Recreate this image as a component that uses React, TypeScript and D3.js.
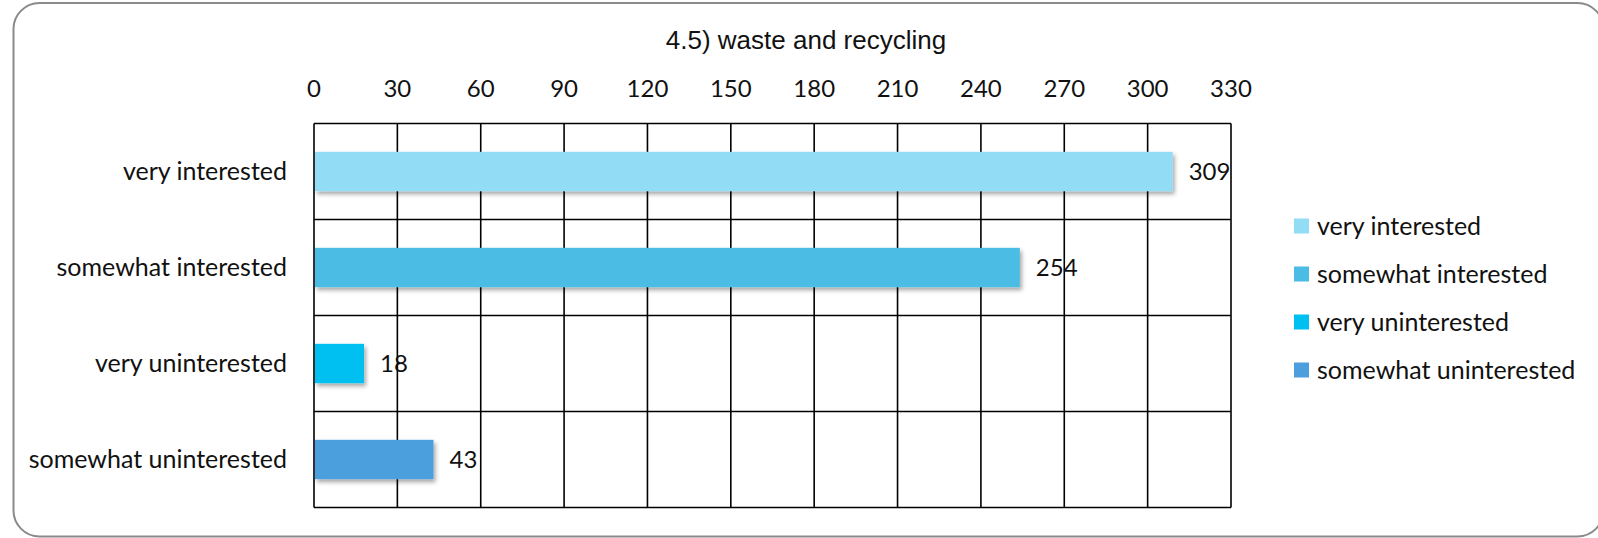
import React from 'react';
import * as d3 from 'd3';

// Chart data
const categories = ['very interested', 'somewhat interested', 'very uninterested', 'somewhat uninterested'];
const values = [309, 254, 18, 43];
const colors = ['#92dcf6', '#4bbce4', '#00c0f2', '#4c9fdc'];
const xTicks = [0, 30, 60, 90, 120, 150, 180, 210, 240, 270, 300, 330];
const title = '4.5) waste and recycling';

const W = 1598;
const H = 538;
const margin = { left: 314, right: 1231, top: 123.5, bottom: 507.5 };
const labelFont = 'Lato, "Open Sans", sans-serif';

const App = () => {
  const x = d3.scaleLinear().domain([0, 330]).range([margin.left, margin.right]);
  const y = d3.scaleBand<string>()
    .domain(categories)
    .range([margin.top, margin.bottom])
    .paddingInner(0.59)
    .paddingOuter(0.295);
  const step = y.step();
  const rowLines = d3.range(categories.length + 1).map(i => margin.top + i * step);

  return (
    <div style={{ position: 'absolute', left: 0, top: 0 }}>
      <svg width={W} height={H} style={{ display: 'block', background: '#fff' }}>
        <defs>
          <filter id="shadow" x="-5%" y="-20%" width="115%" height="160%">
            <feDropShadow dx="2" dy="3" stdDeviation="2" floodColor="#000" floodOpacity="0.35" />
          </filter>
        </defs>

        {/* outer rounded frame */}
        <rect x={13.5} y={3} width={1590} height={533.5} rx={26} ry={26}
          fill="#fff" stroke="#8a8a8a" strokeWidth={2} />

        {/* title */}
        <text x={806} y={49} textAnchor="middle" fontFamily='"Liberation Sans", Arial, sans-serif'
          fontSize={26} fill="#111">{title}</text>

        {/* top tick labels */}
        {xTicks.map(t => (
          <text key={t} x={x(t)} y={97} textAnchor="middle" fontFamily={labelFont}
            fontSize={24} fill="#111">{t}</text>
        ))}

        {/* vertical grid */}
        {xTicks.map(t => (
          <line key={'g' + t} x1={x(t)} x2={x(t)} y1={margin.top} y2={margin.bottom}
            stroke="#000" strokeWidth={1.6} />
        ))}
        {/* horizontal row lines */}
        {rowLines.map((ly, i) => (
          <line key={'r' + i} x1={margin.left} x2={margin.right} y1={ly} y2={ly}
            stroke="#000" strokeWidth={1.6} />
        ))}

        {/* bars */}
        {categories.map((c, i) => (
          <rect key={c} x={x(0) + 1} y={y(c)} width={x(values[i]) - x(0) - 1}
            height={y.bandwidth()} fill={colors[i]} filter="url(#shadow)" />
        ))}

        {/* value labels */}
        {categories.map((c, i) => (
          <text key={'v' + c} x={x(values[i]) + 16} y={(y(c) ?? 0) + y.bandwidth() / 2}
            dy="0.35em" fontFamily={labelFont} fontSize={24} fill="#111">{values[i]}</text>
        ))}

        {/* category labels */}
        {categories.map(c => (
          <text key={'c' + c} x={287} y={(y(c) ?? 0) + y.bandwidth() / 2} dy="0.35em"
            textAnchor="end" fontFamily={labelFont} fontSize={25} fill="#111">{c}</text>
        ))}

        {/* legend */}
        {categories.map((c, i) => (
          <g key={'l' + c} transform={`translate(1294, ${226 + i * 48})`}>
            <rect x={0} y={-7.5} width={15} height={15} fill={colors[i]} />
            <text x={23} y={0} dy="0.35em" fontFamily={labelFont} fontSize={25} fill="#111">{c}</text>
          </g>
        ))}
      </svg>
    </div>
  );
};

export default App;
